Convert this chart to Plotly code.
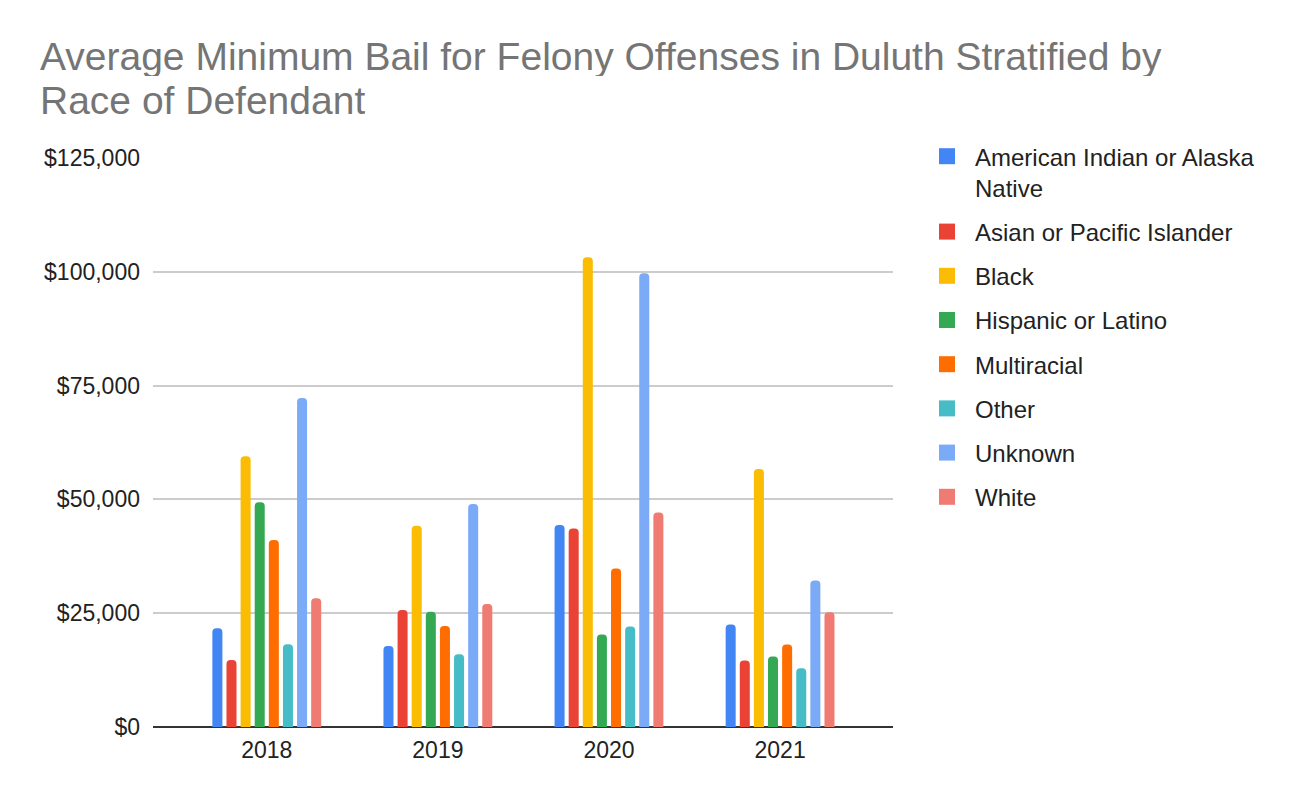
import plotly.graph_objects as go

years = ["2018", "2019", "2020", "2021"]
races = ["American Indian or Alaska<br>Native", "Asian or Pacific Islander", "Black",
         "Hispanic or Latino", "Multiracial", "Other", "Unknown", "White"]
colors = ["#4285f4", "#ea4335", "#fbbc04", "#34a853", "#ff6d01", "#46bdc6", "#7baaf7", "#f07b72"]

american_indian = [21700, 17800, 44400, 22500]
asian_pacific = [14700, 25700, 43600, 14600]
black = [59500, 44200, 103200, 56700]
hispanic = [49400, 25300, 20300, 15500]
multiracial = [41100, 22200, 34800, 18100]
other = [18200, 16000, 22100, 12900]
unknown = [72300, 49000, 99700, 32200]
white = [28300, 27000, 47100, 25200]
series = [american_indian, asian_pacific, black, hispanic, multiracial, other, unknown, white]

ytick_vals = [0, 25000, 50000, 75000, 100000, 125000]
ytick_text = ["$0", "$25,000", "$50,000", "$75,000", "$100,000", "$125,000"]

title_lines = ["Average Minimum Bail for Felony Offenses in Duluth Stratified by", "Race of Defendant"]

FONT = "Liberation Sans, Arial, sans-serif"
W, H = 1292, 796  # page adds an 8px body margin
L, R, T, B = 145, 407, 150, 77
PH = H - T - B
PW = W - L - R

fig = go.Figure()
for name, vals, col in zip(races, series, colors):
    fig.add_trace(go.Bar(x=years, y=vals, name=name, legendgroup=name, showlegend=False,
                         marker=dict(color=col, cornerradius=4, line=dict(width=0)),
                         hovertemplate="%{x}<br>$%{y:,.0f}<extra></extra>"))
# legend entries with larger square swatches
for name, col in zip(races, colors):
    fig.add_trace(go.Scatter(x=[None], y=[None], mode="markers", name=name, legendgroup=name,
                             marker=dict(symbol="square", size=22, color=col), hoverinfo="skip"))

# title as two annotations (tighter line spacing than plotly's title)
for line, fy in zip(title_lines, [48, 92]):
    fig.add_annotation(text=line, xref="paper", yref="paper", height=40, valign="middle",
                       x=(30 - L) / PW, y=(T + PH - fy) / PH, xanchor="left", yanchor="middle",
                       showarrow=False, font=dict(family=FONT, size=39, color="#757575"))

fig.update_layout(
    width=W, height=H, template="plotly_white",
    paper_bgcolor="white", plot_bgcolor="white",
    font=dict(family=FONT, size=23, color="#222222"),
    margin=dict(l=L, r=R, t=T, b=B),
    barmode="group", bargap=0.34, bargroupgap=0.29,
    legend=dict(x=(911 - L) / PW, y=1.042, xanchor="left", yanchor="top", valign="top",
                itemsizing="trace", itemwidth=46, tracegroupgap=10,
                font=dict(family=FONT, size=24, color="#222222"), bgcolor="rgba(0,0,0,0)"),
    showlegend=True,
)
fig.update_xaxes(range=[-0.665, 3.66], showgrid=False, showline=False, ticks="",
                 ticklabelstandoff=7, tickfont=dict(size=23, color="#222222"), zeroline=False)
fig.update_yaxes(range=[0, 125000], tickvals=ytick_vals, ticktext=ytick_text,
                 showgrid=True, gridcolor="#cccccc", gridwidth=1.5,
                 zeroline=True, zerolinecolor="#333333", zerolinewidth=2,
                 ticks="", ticklabelstandoff=12, tickfont=dict(size=23, color="#222222"))

fig.write_html("out.html")
